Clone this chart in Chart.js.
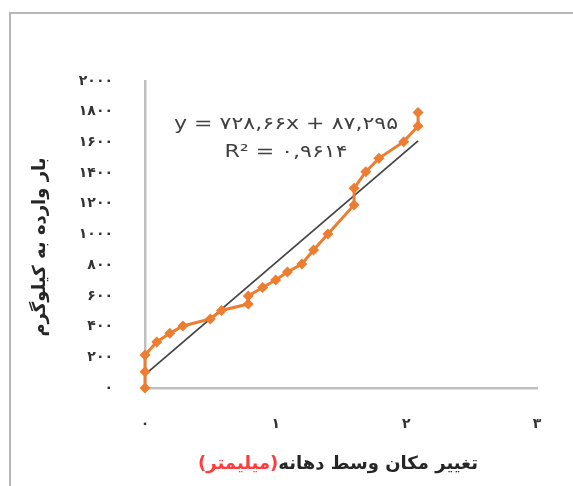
<!DOCTYPE html>
<html>
<head>
<meta charset="utf-8">
<script src="https://cdn.jsdelivr.net/npm/chart.js@4/dist/chart.umd.min.js"></script>
<style>
  body { margin: 0; background: #fff; }
  canvas { display: block; }
</style>
</head>
<body>
<canvas id="loadChart" width="573" height="486"></canvas>
<script>
// data (mid-span displacement in mm, load in kg)
const displacement = [0, 0, 0, 0.09, 0.19, 0.29, 0.50, 0.585, 0.79, 0.79, 0.90, 1.0, 1.09, 1.20, 1.29, 1.40, 1.60, 1.60, 1.69, 1.79, 1.98, 2.09, 2.09];
const load = [0, 106, 215, 300, 356, 404, 450, 505, 547, 600, 655, 703, 756, 808, 899, 1003, 1192, 1301, 1409, 1496, 1605, 1707, 1795];

// linear trendline shown on the chart
const trendSlope = 728.66;
const trendIntercept = 87.295;
const rSquared = '0,9614';

const xTitle = 'تغییر مکان وسط دهانه';
const xTitleUnit = '(میلیمتر)';
const yTitle = 'بار وارده به کیلوگرم';

const faDigits = '۰۱۲۳۴۵۶۷۸۹';
function toFa(str) {
  return String(str).replace(/[0-9]/g, d => faDigits[d]);
}

const points = displacement.map((x, i) => ({ x: x, y: load[i] }));
const xMax = Math.max(...displacement);
const trendPoints = [
  { x: 0, y: trendIntercept },
  { x: xMax, y: trendSlope * xMax + trendIntercept }
];

const FONT = "'DejaVu Sans', sans-serif";

// frame, axis titles and trendline label
const decorations = {
  id: 'decorations',
  beforeDraw(chart) {
    const ctx = chart.ctx;
    ctx.save();
    ctx.strokeStyle = '#b8b8b8';
    ctx.lineWidth = 2;
    ctx.beginPath();
    ctx.moveTo(10, 490);
    ctx.lineTo(10, 13);
    ctx.lineTo(580, 13);
    ctx.stroke();
    ctx.restore();
  },
  afterDraw(chart) {
    const ctx = chart.ctx;
    ctx.save();

    // x title: black part on the right, red unit on the left
    ctx.font = 'bold 18px ' + FONT;
    ctx.direction = 'rtl';
    ctx.textAlign = 'right';
    ctx.textBaseline = 'middle';
    const rightEdge = 478;
    ctx.fillStyle = '#262626';
    ctx.fillText(xTitle, rightEdge, 464);
    const w = ctx.measureText(xTitle).width;
    ctx.fillStyle = '#ff3b3b';
    ctx.fillText(xTitleUnit, rightEdge - w, 464);

    // y title, rotated
    ctx.translate(40, 247);
    ctx.rotate(-Math.PI / 2);
    ctx.textAlign = 'center';
    ctx.fillStyle = '#262626';
    ctx.fillText(yTitle, 0, 0);
    ctx.setTransform(1, 0, 0, 1, 0, 0);

    // trendline equation (stretched a little, the source font is wide)
    ctx.direction = 'ltr';
    ctx.font = '17px ' + FONT;
    ctx.fillStyle = '#404040';
    ctx.textAlign = 'center';
    const eq = 'y = ' + toFa(String(trendSlope).replace('.', ',')) + 'x + ' + toFa(String(trendIntercept).replace('.', ','));
    ctx.translate(286, 0);
    ctx.scale(1.3, 1);
    ctx.fillText(eq, 0, 125);
    ctx.fillText('R² = ' + toFa(rSquared), 0, 153);
    ctx.restore();
  }
};

const ctx = document.getElementById('loadChart').getContext('2d');
new Chart(ctx, {
  type: 'scatter',
  data: {
    datasets: [
      {
        data: points,
        showLine: true,
        borderColor: '#ED7D31',
        backgroundColor: '#ED7D31',
        borderWidth: 3,
        pointStyle: 'rectRot',
        pointRadius: 5.5,
        pointBorderWidth: 0,
        clip: false
      },
      {
        data: trendPoints,
        showLine: true,
        borderColor: '#454545',
        borderWidth: 1.8,
        pointRadius: 0,
        clip: false
      }
    ]
  },
  options: {
    responsive: false,
    animation: false,
    events: [],
    layout: { padding: { top: 81, right: 36, left: 0, bottom: 0 } },
    plugins: {
      legend: { display: false },
      tooltip: { enabled: false }
    },
    scales: {
      x: {
        type: 'linear',
        min: 0,
        max: 3,
        grid: { display: false, drawTicks: false },
        border: { color: '#bfbfbf', width: 2.5 },
        ticks: {
          stepSize: 1,
          padding: 28,
          color: '#333',
          font: { family: FONT, size: 14, weight: 'bold' },
          callback: v => toFa(v)
        },
        afterFit: scale => { scale.height = 98; }
      },
      y: {
        min: 0,
        max: 2000,
        grid: { display: false, drawTicks: false },
        border: { color: '#bfbfbf', width: 2.5 },
        ticks: {
          stepSize: 200,
          padding: 32,
          color: '#333',
          font: { family: FONT, size: 14, weight: 'bold' },
          callback: v => toFa(v)
        },
        afterFit: scale => { scale.width = 145; }
      }
    }
  },
  plugins: [decorations]
});
</script>
</body>
</html>
